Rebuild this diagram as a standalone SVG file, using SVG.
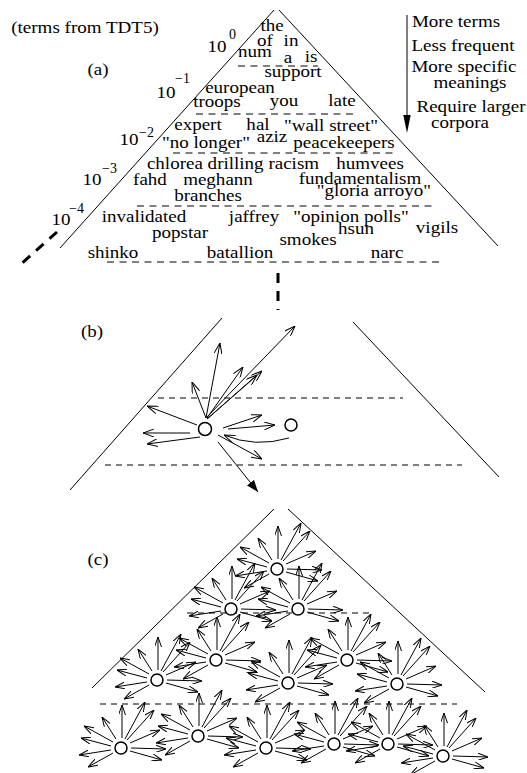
<svg xmlns="http://www.w3.org/2000/svg" xmlns:xlink="http://www.w3.org/1999/xlink" width="527" height="773" viewBox="0 0 527 773">
<style>
.t{font-family:"Liberation Serif","Times New Roman",serif;font-size:17px;text-anchor:middle;fill:#000;transform-box:fill-box;transform-origin:center;transform:scaleX(1.12)}
.s{font-family:"Liberation Serif","Times New Roman",serif;font-size:14px;text-anchor:start;fill:#000}
.ln{stroke:#000;stroke-width:1;fill:none}
.dash{stroke:#000;stroke-width:1;stroke-dasharray:7 5.5;fill:none}
.thick{stroke:#000;stroke-width:3;stroke-dasharray:10 8;fill:none}
.ar{stroke:#000;stroke-width:1;fill:none;marker-end:url(#ob)}
.ac{stroke:#000;stroke-width:1;fill:none;marker-end:url(#oc)}
.node{fill:#fff;stroke:#000;stroke-width:1.5}
</style>
<defs>
<marker id="ob" viewBox="0 0 11 8" refX="11" refY="4" markerWidth="11" markerHeight="8" orient="auto" markerUnits="userSpaceOnUse"><path d="M0,0 L11,4 L0,8" fill="none" stroke="#000" stroke-width="1"/></marker>
<marker id="oc" viewBox="0 0 10 7" refX="10" refY="3.5" markerWidth="10" markerHeight="7" orient="auto" markerUnits="userSpaceOnUse"><path d="M0,0 L10,3.5 L0,7" fill="none" stroke="#000" stroke-width="1"/></marker>
<marker id="fb" viewBox="0 0 12 9" refX="12" refY="4.5" markerWidth="12" markerHeight="9" orient="auto" markerUnits="userSpaceOnUse"><path d="M0,0 L12,4.5 L0,9 Z" fill="#000"/></marker>
<g id="burst">
<line class="ac" x1="1" y1="-10" x2="1" y2="-43"/>
<line class="ac" x1="4" y1="-9" x2="24" y2="-46"/>
<line class="ac" x1="6" y1="-8" x2="33" y2="-38"/>
<line class="ac" x1="9" y1="-5" x2="39" y2="-18"/>
<line class="ac" x1="10" y1="0" x2="45" y2="1"/>
<line class="ac" x1="9" y1="3" x2="41" y2="12"/>
<line class="ac" x1="-5" y1="-9" x2="-19" y2="-31"/>
<line class="ac" x1="-8" y1="-6" x2="-37" y2="-22"/>
<line class="ac" x1="-10" y1="-2" x2="-40" y2="-10"/>
<line class="ac" x1="-10" y1="2" x2="-42" y2="7"/>
<line class="ac" x1="-8" y1="5" x2="-33" y2="19"/>
</g>
</defs>
<rect width="527" height="773" fill="#fff"/>

<!-- Panel (a) -->
<g id="panel-a">
<line class="ln" x1="274" y1="10" x2="60" y2="248"/>
<line class="ln" x1="279" y1="10" x2="498" y2="246"/>
<line class="thick" x1="57" y1="232" x2="20" y2="265"/>
<line class="thick" x1="278" y1="273" x2="278" y2="310"/>
<line class="dash" x1="238" y1="66" x2="318" y2="66"/>
<line class="dash" x1="196" y1="114" x2="357" y2="114"/>
<line class="dash" x1="173" y1="153" x2="397" y2="153"/>
<line class="dash" x1="137" y1="206" x2="437" y2="206"/>
<line class="dash" x1="107" y1="262" x2="440" y2="262"/>
<text class="t" x="85" y="33">(terms from TDT5)</text>
<text class="t" x="98" y="75">(a)</text>
<g id="exponents">
<text class="t" x="217" y="52">10</text><text class="s" x="229" y="39">0</text>
<text class="t" x="166" y="98">10</text><text class="s" x="175" y="83">−1</text>
<text class="t" x="129" y="145">10</text><text class="s" x="139" y="137">−2</text>
<text class="t" x="92" y="185">10</text><text class="s" x="102" y="173">−3</text>
<text class="t" x="61" y="225">10</text><text class="s" x="69" y="213">−4</text>
</g>
<g id="terms">
<text class="t" x="272" y="31">the</text>
<text class="t" x="265" y="46">of</text>
<text class="t" x="291" y="46">in</text>
<text class="t" x="255" y="57">num</text>
<text class="t" x="288" y="63">a</text>
<text class="t" x="311" y="62">is</text>
<text class="t" x="293" y="77">support</text>
<text class="t" x="240" y="93">european</text>
<text class="t" x="217" y="107">troops</text>
<text class="t" x="284" y="106">you</text>
<text class="t" x="342" y="106">late</text>
<text class="t" x="198" y="130">expert</text>
<text class="t" x="258" y="130">hal</text>
<text class="t" x="331" y="131">"wall street"</text>
<text class="t" x="272" y="142">aziz</text>
<text class="t" x="206" y="148">"no longer"</text>
<text class="t" x="344" y="148">peacekeepers</text>
<text class="t" x="233" y="169">chlorea drilling racism</text>
<text class="t" x="370" y="169">humvees</text>
<text class="t" x="150" y="185">fahd</text>
<text class="t" x="218" y="185">meghann</text>
<text class="t" x="360" y="184">fundamentalism</text>
<text class="t" x="208" y="201">branches</text>
<text class="t" x="374" y="196">"gloria arroyo"</text>
<text class="t" x="144" y="222">invalidated</text>
<text class="t" x="254" y="222">jaffrey</text>
<text class="t" x="351" y="222">"opinion polls"</text>
<text class="t" x="356" y="234">hsun</text>
<text class="t" x="437" y="233">vigils</text>
<text class="t" x="180" y="238">popstar</text>
<text class="t" x="308" y="245">smokes</text>
<text class="t" x="113" y="258">shinko</text>
<text class="t" x="240" y="258">batallion</text>
<text class="t" x="387" y="258">narc</text>
</g>
<g id="legend">
<line class="ln" x1="407" y1="15" x2="407" y2="118"/>
<polygon points="403.3,115 410.7,115 407,133" fill="#000"/>
<text class="t" x="456" y="27">More terms</text>
<text class="t" x="463" y="51">Less frequent</text>
<text class="t" x="464" y="72">More specific</text>
<text class="t" x="470" y="88">meanings</text>
<text class="t" x="471" y="112">Require larger</text>
<text class="t" x="460" y="128">corpora</text>
</g>
</g>

<!-- Panel (b) -->
<g id="panel-b">
<text class="t" x="92" y="337">(b)</text>
<line class="ln" x1="222" y1="318" x2="70" y2="490"/>
<line class="ln" x1="353" y1="322" x2="499" y2="477"/>
<line class="dash" x1="158" y1="398" x2="403" y2="398" style="stroke-dasharray:6 5"/>
<line class="dash" x1="105" y1="465" x2="462" y2="465" style="stroke-dasharray:6 5"/>
<g id="b-connectors">
<line class="ar" x1="206" y1="418" x2="220" y2="343"/>
<line class="ar" x1="206" y1="418" x2="192" y2="382"/>
<line class="ar" x1="207" y1="418" x2="243" y2="367"/>
<line class="ar" x1="207" y1="419" x2="257" y2="375"/>
<line class="ar" x1="207" y1="419" x2="262" y2="371"/>
<line class="ar" x1="206" y1="418" x2="295" y2="326"/>
<line class="ar" x1="197" y1="425" x2="147" y2="406"/>
<line class="ar" x1="190" y1="433" x2="143" y2="433"/>
<line class="ar" x1="200" y1="437" x2="147" y2="444"/>
<line class="ar" x1="223" y1="428" x2="262" y2="415"/>
<line class="ar" x1="228" y1="429" x2="275" y2="425"/>
<path class="ar" d="M289,438 Q255,448 224,435"/>
<line class="ar" x1="218" y1="435" x2="262" y2="459"/>
<line x1="218" y1="442" x2="258" y2="492" stroke="#000" stroke-width="1" marker-end="url(#fb)"/>
</g>
<g id="b-node1"><circle class="node" cx="205" cy="429" r="6.5"/></g>
<g id="b-node2"><circle class="node" cx="291" cy="425" r="6"/></g>
</g>

<!-- Panel (c) -->
<g id="panel-c">
<text class="t" x="98" y="565">(c)</text>
<line class="ln" x1="274" y1="509" x2="92" y2="688"/>
<line class="ln" x1="288" y1="509" x2="485" y2="692"/>
<line class="dash" x1="187" y1="613" x2="372" y2="613" style="stroke-dasharray:6 5"/>
<line class="dash" x1="100" y1="704" x2="457" y2="704" style="stroke-dasharray:6 5"/>
<g id="c-connectors">
<use xlink:href="#burst" x="277" y="569"/>
<use xlink:href="#burst" x="231" y="609"/>
<use xlink:href="#burst" x="298" y="609"/>
<use xlink:href="#burst" x="157" y="680"/>
<use xlink:href="#burst" x="216" y="660"/>
<use xlink:href="#burst" x="288" y="683"/>
<use xlink:href="#burst" x="347" y="660"/>
<use xlink:href="#burst" x="397" y="684"/>
<use xlink:href="#burst" x="121" y="748"/>
<use xlink:href="#burst" x="198" y="736"/>
<use xlink:href="#burst" x="266" y="748"/>
<use xlink:href="#burst" x="334" y="744"/>
<use xlink:href="#burst" x="388" y="744"/>
<use xlink:href="#burst" x="443" y="756"/>
</g>
<g id="c-n1"><circle class="node" cx="277" cy="569" r="6"/></g>
<g id="c-n2"><circle class="node" cx="231" cy="609" r="6"/></g>
<g id="c-n3"><circle class="node" cx="298" cy="609" r="6"/></g>
<g id="c-n4"><circle class="node" cx="157" cy="680" r="6"/></g>
<g id="c-n5"><circle class="node" cx="216" cy="660" r="6"/></g>
<g id="c-n6"><circle class="node" cx="288" cy="683" r="6"/></g>
<g id="c-n7"><circle class="node" cx="347" cy="660" r="6"/></g>
<g id="c-n8"><circle class="node" cx="397" cy="684" r="6"/></g>
<g id="c-n9"><circle class="node" cx="121" cy="748" r="6"/></g>
<g id="c-n10"><circle class="node" cx="198" cy="736" r="6"/></g>
<g id="c-n11"><circle class="node" cx="266" cy="748" r="6"/></g>
<g id="c-n12"><circle class="node" cx="334" cy="744" r="6"/></g>
<g id="c-n13"><circle class="node" cx="388" cy="744" r="6"/></g>
<g id="c-n14"><circle class="node" cx="443" cy="756" r="6"/></g>
</g>
</svg>
